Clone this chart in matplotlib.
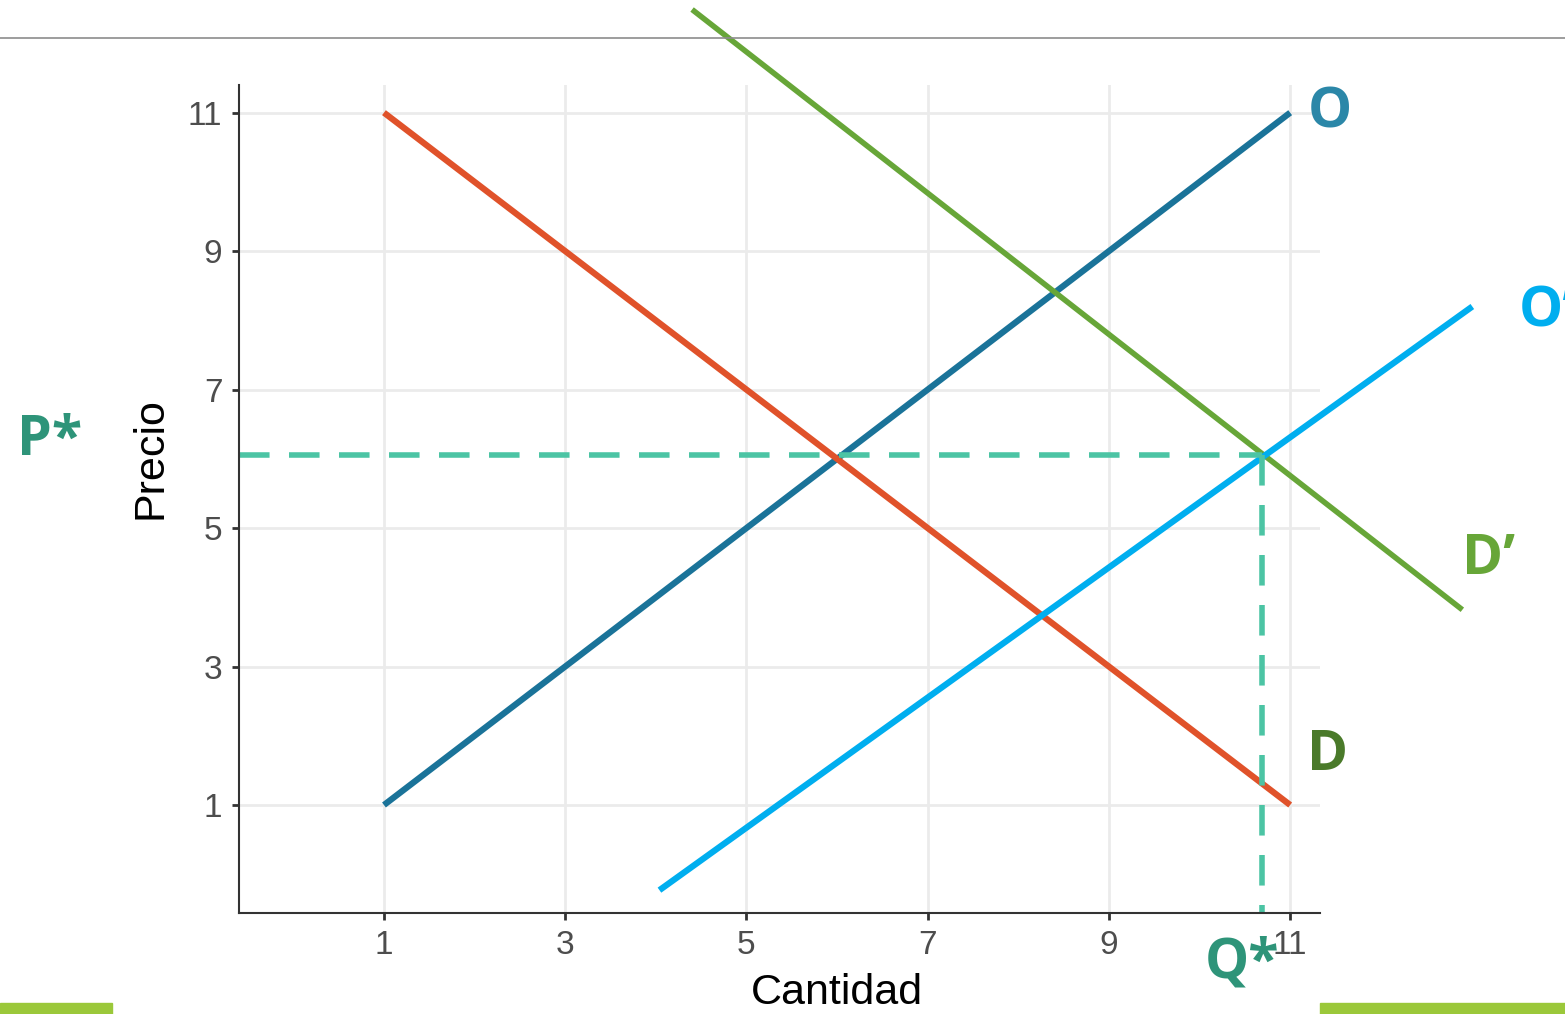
import matplotlib.pyplot as plt
from matplotlib.lines import Line2D
from matplotlib.patches import Rectangle

# curve end points (cantidad, precio)
cantidad_O = [1, 11]
precio_O = [1, 11]
cantidad_D = [1, 11]
precio_D = [11, 1]
cantidad_D2 = [4.40, 12.90]
precio_D2 = [12.49, 3.82]
cantidad_O2 = [4.04, 13.01]
precio_O2 = [-0.23, 8.20]
p_star = 6.06
q_star = 10.69

ticks = [1, 3, 5, 7, 9, 11]
xlim = (-0.6, 11.33)
ylim = (-0.56, 11.4)

fig = plt.figure(figsize=(15.65, 10.14), dpi=100)
ax = fig.add_axes([0.1527, 0.0996, 0.6908, 0.8166])

ax.set_xlim(*xlim)
ax.set_ylim(*ylim)
ax.set_xticks(ticks)
ax.set_yticks(ticks)
ax.grid(True, color='#ebebeb', linewidth=2)
ax.set_axisbelow(True)
for s in ['top', 'right']:
    ax.spines[s].set_visible(False)
for s in ['left', 'bottom']:
    ax.spines[s].set_color('#333333')
    ax.spines[s].set_linewidth(1.5)
ax.tick_params(length=5, width=2, color='#333333', labelcolor='#4d4d4d',
               labelsize=24, pad=7)
for lab in ax.get_xticklabels() + ax.get_yticklabels():
    lab.set_fontfamily('Liberation Sans')
ax.set_xlabel("Cantidad", fontsize=31, family='Liberation Sans')
ax.set_ylabel("Precio", fontsize=31, family='Liberation Sans')
ax.xaxis.set_label_coords(0.553, -0.097)
ax.yaxis.set_label_coords(-0.082, 0.55)
ax.xaxis.label.set_va('center')
ax.yaxis.label.set_va('center')

# original curves
ax.plot(cantidad_O, precio_O, color='#1a7399', linewidth=4.5, solid_capstyle='butt')
ax.plot(cantidad_D, precio_D, color='#e0522a', linewidth=4.5, solid_capstyle='butt')

# shifted curves drawn over the chart
ax.plot(cantidad_D2, precio_D2, color='#67a638', linewidth=4, clip_on=False,
        solid_capstyle='butt')
ax.plot(cantidad_O2, precio_O2, color='#00aeef', linewidth=4.5, clip_on=False,
        solid_capstyle='butt')

# new equilibrium guides
dash = (0, (5.5, 3.5))
ax.plot([xlim[0], q_star], [p_star, p_star], color='#4cc4a4', linewidth=4,
        linestyle=dash, clip_on=False)
ax.plot([q_star, q_star], [p_star, ylim[0]], color='#4cc4a4', linewidth=4,
        linestyle=dash, clip_on=False)

lbl = dict(fontsize=40, fontweight='bold', family='Open Sans', va='center',
           clip_on=False)
ax.text(11.44, 11.0, "O", color='#2b87a8', ha='center', **lbl)
ax.text(13.52, 8.12, "O\u2019", color='#00aeef', ha='left', **lbl)
ax.text(12.90, 4.54, "D\u2019", color='#67a638', ha='left', **lbl)
ax.text(11.19, 1.72, "D", color='#4a7a2a', ha='left', **lbl)
ax.text(-3.05, 6.27, "P*", color='#2e9479', ha='left', **lbl)
ax.text(10.06, -1.28, "Q*", color='#2e9479', ha='left', **lbl)

# slide decorations
fig.add_artist(Line2D([0, 1], [1 - 38 / 1014, 1 - 38 / 1014], color='#8c8c8c',
                      linewidth=1.2, transform=fig.transFigure))
fig.add_artist(Rectangle((0, 0), 112 / 1565, 11 / 1014, color='#9bc83a',
                         transform=fig.transFigure))
fig.add_artist(Rectangle((1320 / 1565, 0), 245 / 1565, 11 / 1014, color='#9bc83a',
                         transform=fig.transFigure))

fig.savefig("out.png", dpi=100)
